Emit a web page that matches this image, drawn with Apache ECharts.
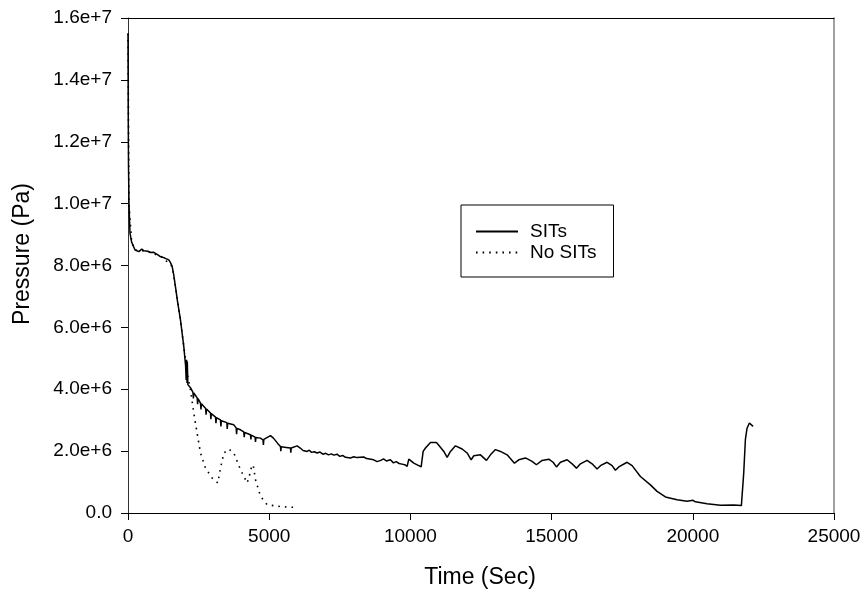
<!DOCTYPE html>
<html>
<head>
<meta charset="utf-8">
<script src="https://cdn.jsdelivr.net/npm/echarts@6/dist/echarts.min.js"></script>
<style>
html,body{margin:0;padding:0;background:#fff;}
#chart{width:866px;height:594px;}
</style>
</head>
<body>
<div id="chart"></div>
<script>
// ---- Data ----
const xTicks = [0, 5000, 10000, 15000, 20000, 25000];
const yTicks = ['0.0', '2.0e+6', '4.0e+6', '6.0e+6', '8.0e+6', '1.0e+7', '1.2e+7', '1.4e+7', '1.6e+7'];
const seriesNames = ['SITs', 'No SITs'];

const sitsTime = [0,8,18,35,70,130,250,384,485,560,700,796,900,1032,1120,1210,1300,1445,1500,1563,1620,1680,1760,1858,1976,2040,2060,2075,2090,2100,2120,2212,2300,2315,2330,2450,2465,2480,2567,2585,2600,2750,2765,2780,2921,2935,2950,3100,3115,3130,3275,3290,3305,3500,3515,3530,3747,3830,3845,3860,3983,4100,4115,4130,4337,4352,4367,4500,4515,4530,4691,4780,4795,4810,4950,5045,5150,5300,5399,5412,5425,5600,5753,5766,5780,5989,6100,6200,6250,6343,6420,6500,6600,6697,6800,6900,7000,7100,7200,7286,7400,7500,7600,7700,7876,8000,8100,8348,8450,8600,8700,8820,8950,9050,9150,9292,9400,9500,9600,9700,9800,9885,9944,10121,10381,10451,10534,10711,10923,11041,11183,11301,11419,11596,11832,12009,12151,12245,12481,12693,12835,13012,13189,13425,13685,13838,14074,14310,14463,14664,14900,15053,15172,15313,15549,15726,15880,16021,16257,16434,16611,16729,16965,17142,17260,17379,17674,17851,18145,18499,18735,19030,19443,19797,20009,20092,20505,20977,21449,21720,21803,21862,21921,22004,22063,22134];
const sitsPressure = [15.5e6,13.0e6,11.2e6,10.0e6,9.05e6,8.75e6,8.5e6,8.45e6,8.53e6,8.48e6,8.46e6,8.42e6,8.43e6,8.36e6,8.3e6,8.27e6,8.24e6,8.18e6,8.1e6,7.97e6,7.7e6,7.32e6,6.8e6,6.24e6,5.38e6,4.75e6,4.3e6,4.95e6,4.2e6,4.9e6,4.15e6,4.05e6,3.9e6,3.7e6,3.88e6,3.72e6,3.52e6,3.7e6,3.55e6,3.35e6,3.53e6,3.38e6,3.18e6,3.36e6,3.23e6,3.03e6,3.21e6,3.1e6,2.9e6,3.08e6,3.01e6,2.8e6,2.98e6,2.92e6,2.72e6,2.9e6,2.85e6,2.75e6,2.55e6,2.73e6,2.69e6,2.62e6,2.45e6,2.6e6,2.53e6,2.38e6,2.52e6,2.45e6,2.3e6,2.44e6,2.42e6,2.36e6,2.2e6,2.38e6,2.45e6,2.5e6,2.42e6,2.25e6,2.15e6,2.0e6,2.14e6,2.12e6,2.1e6,1.95e6,2.1e6,2.17e6,2.1e6,2.02e6,2.06e6,1.99e6,2.03e6,1.96e6,1.98e6,1.94e6,1.97e6,1.9e6,1.93e6,1.88e6,1.91e6,1.87e6,1.9e6,1.83e6,1.86e6,1.8e6,1.78e6,1.82e6,1.79e6,1.81e6,1.76e6,1.74e6,1.72e6,1.66e6,1.7e6,1.75e6,1.68e6,1.72e6,1.62e6,1.66e6,1.6e6,1.58e6,1.56e6,1.51e6,1.74e6,1.61e6,1.49e6,1.99e6,2.1e6,2.28e6,2.28e6,2.15e6,1.99e6,1.80e6,1.99e6,2.17e6,2.07e6,1.94e6,1.72e6,1.85e6,1.88e6,1.70e6,1.88e6,2.05e6,1.99e6,1.88e6,1.61e6,1.72e6,1.78e6,1.67e6,1.56e6,1.70e6,1.74e6,1.64e6,1.49e6,1.64e6,1.72e6,1.59e6,1.45e6,1.59e6,1.70e6,1.59e6,1.42e6,1.53e6,1.64e6,1.53e6,1.38e6,1.49e6,1.64e6,1.53e6,1.18e6,0.91e6,0.70e6,0.52e6,0.43e6,0.38e6,0.41e6,0.36e6,0.30e6,0.25e6,0.26e6,0.24e6,1.29e6,2.37e6,2.74e6,2.91e6,2.91e6,2.80e6];

const noSitsTime = [0,35,130,250,700,1210,1563,1680,1858,1976,2100,2212,2330,2448,2567,2744,2980,3180,3275,3393,3570,3747,3983,4219,4300,4337,4432,4514,4691,4927,5281,5635,5989];
const noSitsPressure = [15.5e6,10.0e6,8.75e6,8.5e6,8.46e6,8.27e6,7.97e6,7.32e6,6.24e6,5.38e6,4.5e6,3.98e6,3.23e6,2.58e6,1.94e6,1.45e6,1.13e6,0.97e6,1.45e6,1.94e6,2.07e6,1.94e6,1.40e6,0.97e6,1.2e6,1.40e6,1.56e6,1.08e6,0.54e6,0.27e6,0.22e6,0.19e6,0.18e6];

// ---- Chart ----
const FONT = '"Liberation Sans", Arial, sans-serif';
const chart = echarts.init(document.getElementById('chart'), null, {renderer: 'canvas'});
const zip = (a, b) => a.map((t, i) => [t, b[i]]);

chart.setOption({
  animation: false,
  backgroundColor: '#fff',
  grid: {left: 128, right: 32, top: 18, bottom: 81},
  legend: {
    orient: 'vertical',
    left: 461, top: 205,
    padding: [17, 17, 15, 14],
    borderColor: '#000', borderWidth: 1,
    itemWidth: 42, itemHeight: 14, itemGap: 2,
    itemStyle: {color: 'rgba(0,0,0,0)', borderWidth: 0, opacity: 0},
    textStyle: {fontFamily: FONT, fontSize: 19, color: '#000', padding: [0, 0, 0, 7]},
    data: seriesNames
  },
  xAxis: [{
    type: 'value', min: xTicks[0], max: xTicks[xTicks.length - 1], interval: 5000,
    axisLine: {show: true, lineStyle: {color: '#000', width: 1}},
    axisTick: {show: true, length: 7, lineStyle: {color: '#000'}},
    axisLabel: {fontFamily: FONT, fontSize: 19, color: '#000', margin: 14,
      formatter: v => String(v)},
    splitLine: {show: false}
  }, {
    type: 'value', position: 'top', min: 0, max: 25000,
    axisLine: {show: true, onZero: false, lineStyle: {color: '#000', width: 1}},
    axisTick: {show: false}, axisLabel: {show: false}, splitLine: {show: false}
  }],
  yAxis: [{
    type: 'value', min: 0, max: 1.6e7, interval: 2e6,
    axisLine: {show: true, onZero: false, lineStyle: {color: '#333', width: 1}},
    axisTick: {show: true, length: 7, lineStyle: {color: '#000'}},
    axisLabel: {fontFamily: FONT, fontSize: 19, color: '#000', margin: 16,
      formatter: v => yTicks[Math.round(v / 2e6)]},
    splitLine: {show: false}
  }, {
    type: 'value', position: 'right', min: 0, max: 1.6e7,
    axisLine: {show: true, onZero: false, lineStyle: {color: '#808080', width: 1.5}},
    axisTick: {show: false}, axisLabel: {show: false}, splitLine: {show: false}
  }],
  graphic: [
    {type: 'text', x: 480, y: 578,
      style: {text: 'Time (Sec)', font: '23px ' + FONT, fill: '#000', textAlign: 'center', textVerticalAlign: 'middle'}},
    {type: 'text', rotation: Math.PI / 2, x: 23, y: 254,
      style: {text: 'Pressure (Pa)', font: '23px ' + FONT, fill: '#000', textAlign: 'center', textVerticalAlign: 'middle'}}
  ],
  series: [{
    name: seriesNames[0], type: 'line', symbol: 'none', xAxisIndex: 0, yAxisIndex: 0,
    lineStyle: {color: '#000', width: 1.5},
    itemStyle: {color: '#000'},
    data: zip(sitsTime, sitsPressure)
  }, {
    name: seriesNames[1], type: 'line', symbol: 'none', xAxisIndex: 0, yAxisIndex: 0,
    lineStyle: {color: '#000', width: 1.6, type: [1.6, 5]},
    itemStyle: {color: '#000'},
    data: zip(noSitsTime, noSitsPressure)
  }]
});
</script>
</body>
</html>
